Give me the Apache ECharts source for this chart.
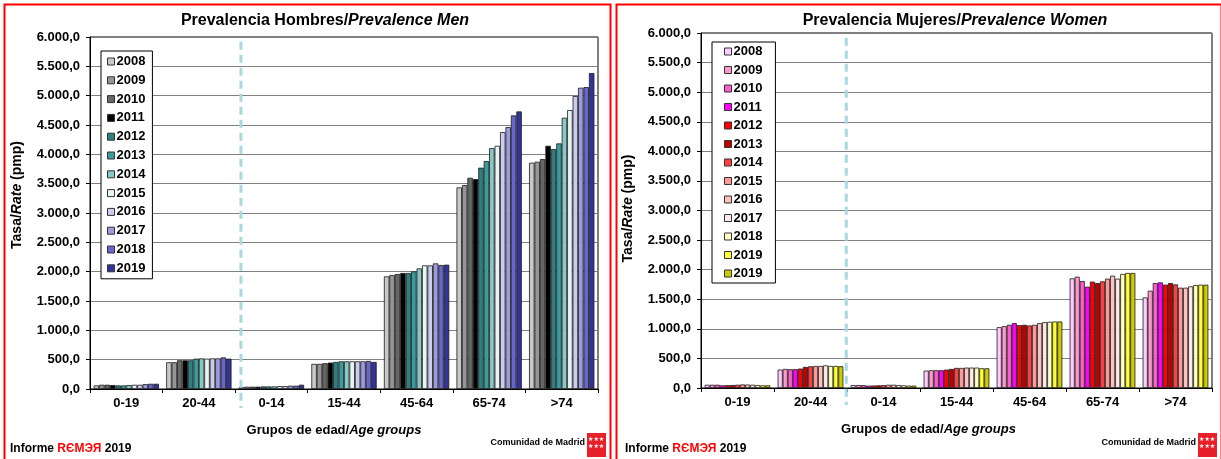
<!DOCTYPE html>
<html><head><meta charset="utf-8">
<script src="https://cdn.jsdelivr.net/npm/echarts@6/dist/echarts.min.js"></script>
<style>html,body{margin:0;padding:0;background:#fff}#c{width:1221px;height:459px}</style>
</head><body><div id="c"></div>
<script>
// ---------- DATA ----------
const categories = ['0-19', '20-44', '0-14', '15-44', '45-64', '65-74', '>74'];
const yTicks = [0, 500, 1000, 1500, 2000, 2500, 3000, 3500, 4000, 4500, 5000, 5500, 6000];
const menYears = ['2008', '2009', '2010', '2011', '2012', '2013', '2014', '2015', '2016', '2017', '2018', '2019'];
const womenYears = ['2008', '2009', '2010', '2011', '2012', '2013', '2014', '2015', '2016', '2017', '2018', '2019', '2019'];

const men2008 = [61, 456, 33, 428, 1920, 3436, 3857];
const men2009 = [72, 456, 39, 428, 1943, 3476, 3874];
const men2010 = [72, 489, 39, 439, 1960, 3601, 3919];
const men2011 = [67, 489, 39, 450, 1977, 3578, 4146];
const men2012 = [61, 489, 44, 461, 1977, 3772, 4090];
const men2013 = [61, 517, 44, 472, 2005, 3885, 4186];
const men2014 = [67, 522, 44, 472, 2056, 4107, 4624];
const men2015 = [72, 517, 50, 472, 2107, 4146, 4754];
const men2016 = [72, 522, 50, 472, 2107, 4379, 4993];
const men2017 = [83, 522, 56, 472, 2141, 4465, 5135];
const men2018 = [89, 539, 56, 478, 2113, 4663, 5146];
const men2019 = [89, 517, 72, 461, 2119, 4731, 5385];

const women2008 = [55, 311, 50, 294, 1028, 1853, 1531];
const women2009 = [55, 322, 50, 300, 1045, 1881, 1644];
const women2010 = [55, 317, 48, 300, 1068, 1808, 1774];
const women2011 = [45, 317, 40, 300, 1096, 1712, 1785];
const women2012 = [48, 328, 42, 311, 1062, 1797, 1746];
const women2013 = [50, 356, 45, 322, 1068, 1774, 1774];
const women2014 = [55, 367, 48, 339, 1057, 1802, 1751];
const women2015 = [60, 372, 55, 339, 1068, 1848, 1695];
const women2016 = [58, 372, 55, 345, 1096, 1898, 1695];
const women2017 = [55, 383, 50, 345, 1113, 1848, 1718];
const women2018 = [50, 372, 45, 345, 1119, 1927, 1740];
const women2019 = [45, 372, 40, 333, 1124, 1944, 1746];
const women2019b = [45, 367, 40, 333, 1124, 1944, 1746];

const menData = [men2008, men2009, men2010, men2011, men2012, men2013, men2014, men2015, men2016, men2017, men2018, men2019];
const womenData = [women2008, women2009, women2010, women2011, women2012, women2013, women2014, women2015, women2016, women2017, women2018, women2019, women2019b];

// ---------- STYLE ----------
const menColors = ['#C8C8C8', '#969696', '#666666', '#000000', '#2E8080', '#3A9C9C', '#88C8C8', '#E8F5F5', '#CCCCEE', '#9C9CDC', '#6666CC', '#333399'];
const womenColors = ['#FFCCFF', '#FF99CC', '#FF5CCC', '#FF00FF', '#FF0000', '#C00000', '#FF4040', '#FF9999', '#FFC0C0', '#FFE8E8', '#FFFFC0', '#FFFF33', '#CCCC00'];

const FONT = '"Liberation Sans", Arial, sans-serif';
const fmt = v => {
  const s = String(Math.round(v));
  return s.replace(/\B(?=(\d{3})+(?!\d))/g, '.') + ',0';
};

const chart = echarts.init(document.getElementById('c'));

function yAxisDef(gi, namePad) {
  return {
    type: 'value', gridIndex: gi, min: yTicks[0], max: yTicks[yTicks.length - 1], interval: yTicks[1] - yTicks[0],
    name: '{b|Tasa/}{i|Rate}{b| (pmp)}', nameLocation: 'middle', nameGap: 66,
    nameRotate: 90,
    nameTextStyle: { padding: namePad, rich: {
      b: { fontFamily: FONT, fontWeight: 'bold', fontSize: 14, color: '#000' },
      i: { fontFamily: FONT, fontWeight: 'bold', fontStyle: 'italic', fontSize: 14, color: '#000' } } },
    axisLine: { show: true, lineStyle: { color: '#000', width: 1 } },
    axisTick: { show: true, length: 4, lineStyle: { color: '#000' } },
    axisLabel: { formatter: fmt, fontFamily: FONT, fontWeight: 'bold', fontSize: 13, color: '#000', margin: 10 },
    splitLine: { show: true, lineStyle: { color: '#808080', width: 1 } }
  };
}
function xAxisDef(gi, namePad) {
  return {
    type: 'category', gridIndex: gi, data: categories,
    name: '{b|Grupos de edad/}{i|Age groups}', nameLocation: 'middle', nameGap: 35,
    nameTextStyle: { padding: namePad, rich: {
      b: { fontFamily: FONT, fontWeight: 'bold', fontSize: 13, color: '#000' },
      i: { fontFamily: FONT, fontWeight: 'bold', fontStyle: 'italic', fontSize: 13, color: '#000' } } },
    axisLine: { show: true, lineStyle: { color: '#000' } },
    axisTick: { show: true, length: 4, alignWithLabel: false, lineStyle: { color: '#000' } },
    axisLabel: { fontFamily: FONT, fontWeight: 'bold', fontSize: 13, color: '#000', margin: 8 },
    splitLine: { show: false }
  };
}

const series = [];
menYears.forEach((y, i) => series.push({
  name: 'H' + y + '_' + i, type: 'bar', xAxisIndex: 0, yAxisIndex: 0, data: menData[i],
  barGap: '0%', barCategoryGap: '10%',
  itemStyle: { color: menColors[i], borderColor: '#1a1a1a', borderWidth: 0.8 }
}));
womenYears.forEach((y, i) => series.push({
  name: 'M' + y + '_' + i, type: 'bar', xAxisIndex: 1, yAxisIndex: 1, data: womenData[i],
  barGap: '0%', barCategoryGap: '10%',
  itemStyle: { color: womenColors[i], borderColor: '#1a1a1a', borderWidth: 0.8 }
}));

function legendDef(prefix, years, left, top, gap, pad) {
  return {
    orient: 'vertical', left: left, top: top,
    data: years.map((y, i) => prefix + y + '_' + i),
    formatter: n => n.slice(1, 5),
    icon: 'rect', itemWidth: 7, itemHeight: 7, itemGap: gap,
    itemStyle: { borderColor: '#333', borderWidth: 1 },
    textStyle: { fontFamily: FONT, fontWeight: 'bold', fontSize: 13, color: '#000', lineHeight: 13, padding: [0, 0, 0, -3] },
    backgroundColor: '#fff', borderColor: '#000', borderWidth: 1,
    padding: pad, selectedMode: false
  };
}

const option = {
  animation: false,
  backgroundColor: '#fff',
  title: [
    { text: '{a|Prevalencia Hombres/}{b|Prevalence Men}', left: 320, top: 8, textAlign: 'center',
      textStyle: { rich: {
        a: { fontFamily: FONT, fontWeight: 'bold', fontSize: 16, color: '#000' },
        b: { fontFamily: FONT, fontWeight: 'bold', fontStyle: 'italic', fontSize: 16, color: '#000' } } } },
    { text: '{a|Prevalencia Mujeres/}{b|Prevalence Women}', left: 950, top: 8, textAlign: 'center',
      textStyle: { rich: {
        a: { fontFamily: FONT, fontWeight: 'bold', fontSize: 16, color: '#000' },
        b: { fontFamily: FONT, fontWeight: 'bold', fontStyle: 'italic', fontSize: 16, color: '#000' } } } }
  ],
  grid: [
    { left: 90, top: 37, width: 508, height: 352, show: true, borderColor: '#000', borderWidth: 1, backgroundColor: 'transparent' },
    { left: 701, top: 33, width: 511, height: 355, show: true, borderColor: '#000', borderWidth: 1, backgroundColor: 'transparent' }
  ],
  xAxis: [xAxisDef(0, [0, 20, 0, 0]), xAxisDef(1, [0, 56, 0, 0])],
  yAxis: [yAxisDef(0, [0, 0, 0, 36]), yAxisDef(1, [0, 0, 0, 4])],
  legend: [
    legendDef('H', menYears, 101, 51, 5.8, [4, 7, 4, 6]),
    legendDef('M', womenYears, 712, 42, 5.5, [3, 13, 3, 12])
  ],
  series: series
};
chart.setOption(option);

// decorations: dashed separators positioned via axis scales
function sepX(xi, frac) {
  const a = chart.convertToPixel({ xAxisIndex: xi }, categories[1]);
  const b = chart.convertToPixel({ xAxisIndex: xi }, categories[2]);
  return a + (b - a) * frac;
}
const lx = sepX(0, 0.58), rx = sepX(1, 0.49);
const lTop = chart.convertToPixel({ yAxisIndex: 0 }, 5920), rTop = chart.convertToPixel({ yAxisIndex: 1 }, 5920);
const lBot = chart.convertToPixel({ yAxisIndex: 0 }, 0) + 19, rBot = chart.convertToPixel({ yAxisIndex: 1 }, 0) + 17;

function footer(x0, x1) {
  return [
    { type: 'text', left: x0, top: 443, style: { text: '{a|Informe }{r|RЄMЭЯ}{a| 2019}', rich: {
      a: { fontFamily: FONT, fontWeight: 'bold', fontSize: 12, fill: '#000' },
      r: { fontFamily: FONT, fontWeight: 'bold', fontSize: 12, fill: '#FF0000' } } } },
    { type: 'text', right: 1221 - x1 + 23, top: 438, style: { text: 'Comunidad de Madrid', font: 'bold 9px ' + FONT, fill: '#000' } },
    { type: 'rect', left: x1 - 21, top: 433, shape: { width: 19, height: 24 }, style: { fill: '#E8202A' } },
    { type: 'text', left: x1 - 20, top: 436, style: { text: '★★★\n★★★', font: '6px "DejaVu Sans"', fill: '#fff', lineHeight: 7 } }
  ];
}

chart.setOption({
  graphic: [
    { type: 'rect', left: 2, top: 2, shape: { x: 0, y: 0, width: 606, height: 470 }, style: { fill: 'none', stroke: '#FF0000', lineWidth: 2 }, z: 100 },
    { type: 'rect', left: 614, top: 2, shape: { x: 0, y: 0, width: 605, height: 470 }, style: { fill: 'none', stroke: '#FF0000', lineWidth: 2 }, z: 100 },
    { type: 'line', shape: { x1: lx, y1: lTop, x2: lx, y2: lBot }, style: { stroke: '#A8D8E0', lineWidth: 3, lineDash: [8, 5] }, z: 50 },
    { type: 'line', shape: { x1: rx, y1: rTop, x2: rx, y2: rBot }, style: { stroke: '#A8D8E0', lineWidth: 3, lineDash: [8, 5] }, z: 50 }
  ].concat(footer(10, 608), footer(625, 1219))
});
</script></body></html>
